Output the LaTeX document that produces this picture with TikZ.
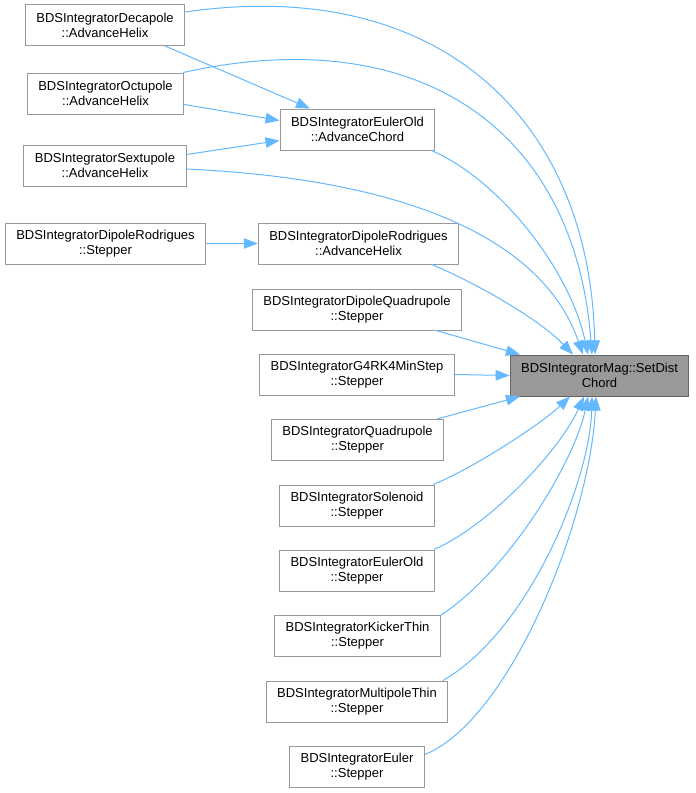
\documentclass[tikz,border=0pt]{standalone}
\usepackage{fontspec}
\setmainfont{Liberation Sans}
\usetikzlibrary{arrows.meta}
\definecolor{edgeblue}{HTML}{63B8FF}
\definecolor{boxgray}{HTML}{999999}
\definecolor{curgray}{HTML}{666666}

\begin{document}
\begin{tikzpicture}[x=1pt, y=-1pt,
            fn/.style={draw=boxgray, line width=1pt, align=center, inner xsep=11pt, minimum height=41pt, font=\fontsize{13}{15}\selectfont},
            cur/.style={fn, fill=boxgray, draw=curgray},
            call/.style={edgeblue, line width=1pt, -{Triangle[length=14pt, width=10.5pt]}}]
            \useasboundingbox (0,0) rectangle (696,793);
            \node [fn] (deca) at (105,25) {BDSIntegratorDecapole\\::AdvanceHelix};
            \node [fn] (octu) at (105.5,93.5) {BDSIntegratorOctupole\\::AdvanceHelix};
            \node [fn] (sext) at (105,165.5) {BDSIntegratorSextupole\\::AdvanceHelix};
            \node [fn] (eulerold) at (357.5,129.5) {BDSIntegratorEulerOld\\::AdvanceChord};
            \node [fn] (drstep) at (105.5,243.5) {BDSIntegratorDipoleRodrigues\\::Stepper};
            \node [fn] (drhelix) at (358.5,243.5) {BDSIntegratorDipoleRodrigues\\::AdvanceHelix};
            \node [fn] (dipquad) at (357,309.5) {BDSIntegratorDipoleQuadrupole\\::Stepper};
            \node [fn] (g4rk4) at (357,374.5) {BDSIntegratorG4RK4MinStep\\::Stepper};
            \node [cur] (setdist) at (599.5,375.5) {BDSIntegratorMag::SetDist\\Chord};
            \node [fn] (quad) at (357.5,440) {BDSIntegratorQuadrupole\\::Stepper};
            \node [fn] (sole) at (357,505.5) {BDSIntegratorSolenoid\\::Stepper};
            \node [fn] (eostep) at (357,570.5) {BDSIntegratorEulerOld\\::Stepper};
            \node [fn] (kick) at (357.5,636) {BDSIntegratorKickerThin\\::Stepper};
            \node [fn] (multi) at (357,701.5) {BDSIntegratorMultipoleThin\\::Stepper};
            \node [fn] (euler) at (357,766.5) {BDSIntegratorEuler\\::Stepper};
            % calls into AdvanceChord / AdvanceHelix
            \draw [call] ([xshift=60pt]deca.south) -- ([xshift=-47.5pt]eulerold.north);
            \draw [call] ([yshift=-11pt]octu.east) -- ([yshift=9pt]eulerold.west);
            \draw [call] ([yshift=11pt]sext.east) -- ([yshift=-11pt]eulerold.west);
            \draw [call] (drstep) -- (drhelix);
            % calls into SetDistChord
            \draw [call] ([yshift=13pt]deca.east) .. controls (440,-25) and (590,120) .. ([xshift=-4.5pt]setdist.north);
            \draw [call] ([xshift=-1pt]octu.north east) .. controls (420,20) and (575,130) .. ([xshift=-7.5pt]setdist.north);
            \draw [call] ([yshift=-3.5pt]sext.east) .. controls (420,180) and (545,245) .. ([xshift=-16.5pt]setdist.north);
            \draw [call] ([xshift=-4pt]eulerold.south east) .. controls (500,180) and (570,270) .. ([xshift=-11.5pt]setdist.north);
            \draw [call] ([xshift=73.5pt]drhelix.south) .. controls (480,285) and (540,320) .. ([xshift=-26.5pt]setdist.north);
            \draw [call] ([xshift=79pt]dipquad.south) -- ([xshift=-79.5pt]setdist.north);
            \draw [call] (g4rk4.east) -- (setdist.west);
            \draw [call] ([xshift=79.5pt]quad.north) -- ([xshift=-79.5pt]setdist.south);
            \draw [call] ([xshift=76pt]sole.north) .. controls (470,470) and (540,425) .. ([xshift=-29.5pt]setdist.south);
            \draw [call] ([xshift=77pt]eostep.north) .. controls (490,525) and (560,450) .. ([xshift=-15.5pt]setdist.south);
            \draw [call] ([xshift=83.5pt]kick.north) .. controls (510,570) and (575,460) .. ([xshift=-11.5pt]setdist.south);
            \draw [call] ([xshift=86pt]multi.north) .. controls (530,630) and (590,480) .. ([xshift=-7.5pt]setdist.south);
            \draw [call] ([yshift=12pt]euler.east) .. controls (510,720) and (590,520) .. ([xshift=-3.5pt]setdist.south);
        \end{tikzpicture}
\end{document}
